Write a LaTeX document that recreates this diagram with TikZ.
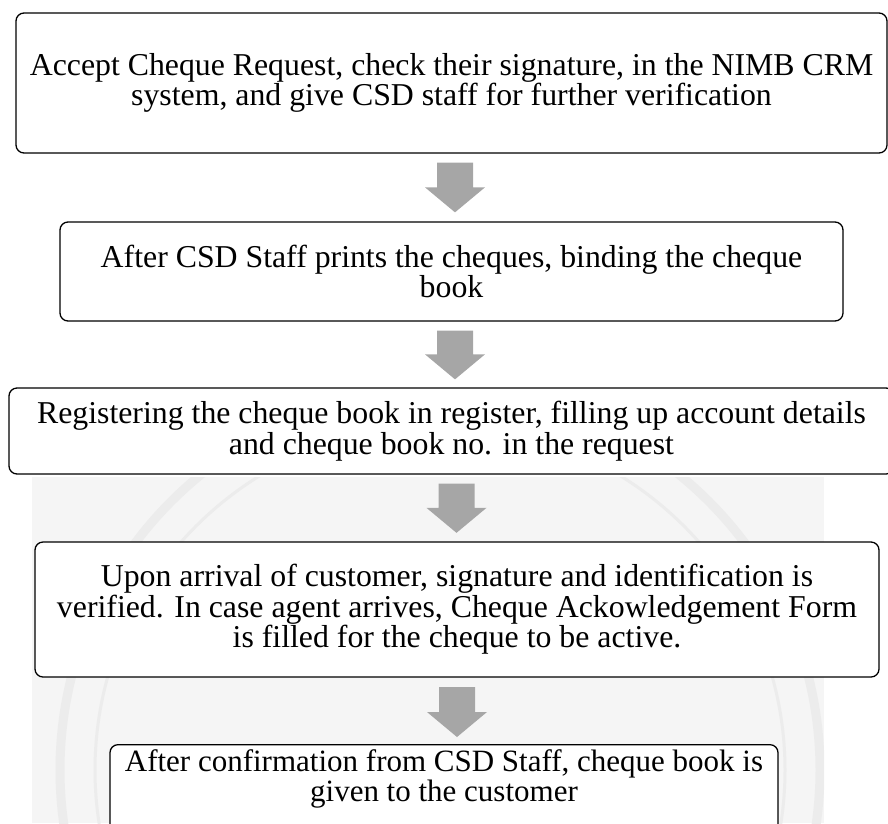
\documentclass[tikz,border=0pt]{standalone}
\usepackage{fontspec}
\setmainfont{Liberation Serif}
\usetikzlibrary{calc}
\definecolor{arrowgray}{HTML}{A6A6A6}
\definecolor{sealtone}{HTML}{F5F5F5}
\definecolor{sealline}{HTML}{ECECEC}

% block arrow: #1 = top centre of the shaft, #2 = tip
\newcommand{\fatarrow}[2]{%
  \fill[arrowgray]
    ($(#1)+(-18,0)$) -- ($(#1)+(18,0)$) --
    ($(#2)+(18,-25)$) -- ($(#2)+(30,-25)$) -- (#2) --
    ($(#2)+(-30,-25)$) -- ($(#2)+(-18,-25)$) -- cycle;}

\begin{document}
\begin{tikzpicture}[x=1pt,y=-1pt,
  stepbox/.style={draw=black, line width=1.3pt, rounded corners=8pt,
    align=center, inner sep=0pt, fill=white,
    font=\fontsize{31.8}{30.5}\selectfont}]
\useasboundingbox (0,0) rectangle (888,823);

% faint seal in the background of the lower half
\fill[sealtone] (32,477) rectangle (824,823);
\begin{scope}
  \clip (32,477) rectangle (824,823);
  \draw[sealline, line width=9pt] (440,770) circle (380);
  \draw[sealline, line width=3pt] (440,770) circle (345);
\end{scope}

% process steps
\node[stepbox, minimum width=871pt, minimum height=140pt] (b1) at (451.5,83)
  {Accept Cheque Request, check their signature, in the NIMB CRM\\system, and give CSD staff for further verification};
\node[stepbox, minimum width=783pt, minimum height=99pt] (b2) at (451.5,271.5)
  {After CSD Staff prints the cheques, binding the cheque\\book};
\node[stepbox, minimum width=885pt, minimum height=86pt] (b3) at (451.5,431)
  {Registering the cheque book in register, filling up account details\\and cheque book no. in the request};
\node[stepbox, minimum width=844pt, minimum height=135pt] (b4) at (457,609.5)
  {Upon arrival of customer, signature and identification is\\verified. In case agent arrives, Cheque Ackowledgement Form\\is filled for the cheque to be active.};
\node[stepbox, minimum width=668pt, anchor=north, inner ysep=5pt,
  font=\fontsize{31}{30.5}\selectfont] (b5) at (444,744)
  {After confirmation from CSD Staff, cheque book is\\given to the customer\rule[-25pt]{0pt}{0pt}};

% arrows between the steps
\coordinate (a1s) at ($(b1.south)+(3.5,9)$);
\coordinate (a1e) at ($(b2.north)+(3.5,-9)$);
\coordinate (a2s) at ($(b2.south)+(3.5,9)$);
\coordinate (a2e) at ($(b3.north)+(3.5,-8)$);
\coordinate (a3s) at ($(b3.south)+(5,9)$);
\coordinate (a3e) at ($(b4.north)+(0,-8.5)$);
\coordinate (a4s) at ($(b4.south)+(0,9.5)$);
\coordinate (a4e) at ($(b5.north)+(13,-7)$);
\fatarrow{a1s}{a1s |- a1e}
\fatarrow{a2s}{a2s |- a2e}
\fatarrow{a3s}{a3s |- a3e}
\fatarrow{a4s}{a4s |- a4e}
\end{tikzpicture}
\end{document}
